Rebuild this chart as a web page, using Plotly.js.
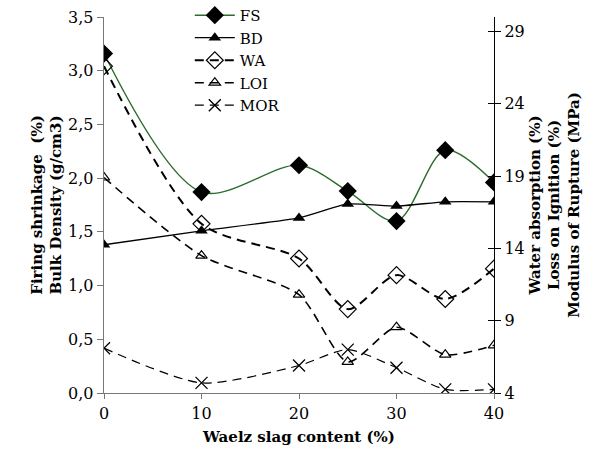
<!DOCTYPE html>
<html>
<head>
<meta charset="utf-8">
<script src="https://cdn.plot.ly/plotly-3.0.1.min.js"></script>
<style>html,body{margin:0;padding:0;background:#fff;}#chart{width:605px;height:457px;}</style>
</head>
<body>
<div id="chart"></div>
<script>
// Waelz slag content (%)
const slag = [0, 10, 20, 25, 30, 35, 40];
// Left axis series
const FS = [3.16, 1.87, 2.12, 1.88, 1.60, 2.26, 1.96];   // Firing shrinkage (%)
const BD = [1.38, 1.51, 1.63, 1.76, 1.74, 1.78, 1.78];   // Bulk density (g/cm3)
// Right axis series
const WA = [26.6, 15.7, 13.3, 9.8, 12.15, 10.5, 12.6];   // Water absorption (%)
const LOI = [18.9, 13.5, 10.8, 6.15, 8.55, 6.65, 7.3];   // Loss on ignition (%)
const MOR = [7.1, 4.7, 5.9, 7.0, 5.75, 4.25, 4.25];      // Modulus of rupture (MPa)

const leftTicks = [0, 0.5, 1, 1.5, 2, 2.5, 3, 3.5];
const rightTicks = [4, 9, 14, 19, 24, 29];
const xTicks = [0, 10, 20, 30, 40];

const FONT = 'DejaVu Serif, serif';
const TICK = {family: FONT, size: 16, color: '#000'};
const TITLE = {family: FONT, size: 15, color: '#000'};

const traces = [
  {name: 'FS', x: slag, y: FS, yaxis: 'y', mode: 'lines+markers',
   line: {color: '#2b6b2b', width: 1.4, shape: 'spline', smoothing: 0.9},
   marker: {symbol: 'diamond', size: 14, color: '#000'}},
  {name: 'BD', x: slag, y: BD, yaxis: 'y', mode: 'lines+markers',
   line: {color: '#000', width: 1.3, shape: 'spline', smoothing: 0.5},
   marker: {symbol: 'triangle-up', size: 11, color: '#000'}},
  {name: 'WA', x: slag, y: WA, yaxis: 'y2', mode: 'lines+markers',
   line: {color: '#000', width: 2, dash: '9px,6px', shape: 'spline', smoothing: 0.8},
   marker: {symbol: 'diamond-open', size: 13, color: '#000', line: {width: 1.2}}},
  {name: 'LOI', x: slag, y: LOI, yaxis: 'y2', mode: 'lines+markers',
   line: {color: '#000', width: 1.6, dash: '9px,6px', shape: 'spline', smoothing: 0.7},
   marker: {symbol: 'triangle-up-open', size: 10, color: '#000', line: {width: 1.2}}},
  {name: 'MOR', x: slag, y: MOR, yaxis: 'y2', mode: 'lines+markers',
   line: {color: '#000', width: 1.2, dash: '9px,6px', shape: 'spline', smoothing: 0.7},
   marker: {symbol: 'x-thin-open', size: 12, color: '#000', line: {width: 1.3}}}
];

const layout = {
  width: 605, height: 457,
  margin: {l: 104, r: 111, t: 17, b: 64, autoexpand: false},
  paper_bgcolor: '#fff', plot_bgcolor: '#fff',
  separators: ',.',
  font: {family: FONT, size: 16, color: '#000'},
  showlegend: true,
  legend: {x: 0.22, y: 1.048, xanchor: 'left', yanchor: 'top', bgcolor: 'rgba(0,0,0,0)',
           font: {family: FONT, size: 15}, tracegroupgap: 0, itemwidth: 40},
  xaxis: {range: [0, 40], tickvals: xTicks, ticks: 'outside', ticklen: 5, tickcolor: '#777',
          showline: true, linecolor: '#777', linewidth: 1.3, showgrid: false, zeroline: false,
          tickfont: TICK,
          title: {text: '<b>Waelz slag content (%)</b>', font: TITLE, standoff: 10}},
  yaxis: {range: [0, 3.5], tickvals: leftTicks, tickformat: '.1f', ticks: 'outside', ticklen: 6,
          tickcolor: '#777', showline: true, linecolor: '#777', linewidth: 1.3, showgrid: false,
          zeroline: false, tickfont: TICK,
          title: {text: '<b>Firing shrinkage  (%)<br>Bulk Density (g/cm3)</b>', font: TITLE, standoff: 2}},
  yaxis2: {range: [4, 30], tickvals: rightTicks, overlaying: 'y', side: 'right', anchor: 'x',
           ticks: 'outside', ticklen: 6, tickcolor: '#000', showline: true, linecolor: '#000',
           linewidth: 1.2, showgrid: false, zeroline: false, tickfont: TICK,
           title: {text: '<b>Water absorption (%)<br>Loss on Ignition (%)<br>Modulus of Rupture (MPa)</b>',
                   font: TITLE, standoff: 5}},
  yaxis3: {range: [4, 30], tickvals: rightTicks, overlaying: 'y', side: 'right', anchor: 'x',
           ticks: 'inside', ticklen: 6, tickcolor: '#000', showticklabels: false, showline: false,
           showgrid: false, zeroline: false}
};

// invisible helper trace so the inner tick marks of the right axis are drawn
traces.push({x: [slag[0]], y: [rightTicks[0]], yaxis: 'y3', mode: 'markers',
  marker: {opacity: 0}, showlegend: false, hoverinfo: 'skip'});

Plotly.newPlot('chart', traces, layout, {displayModeBar: false, staticPlot: true});
</script>
</body>
</html>
